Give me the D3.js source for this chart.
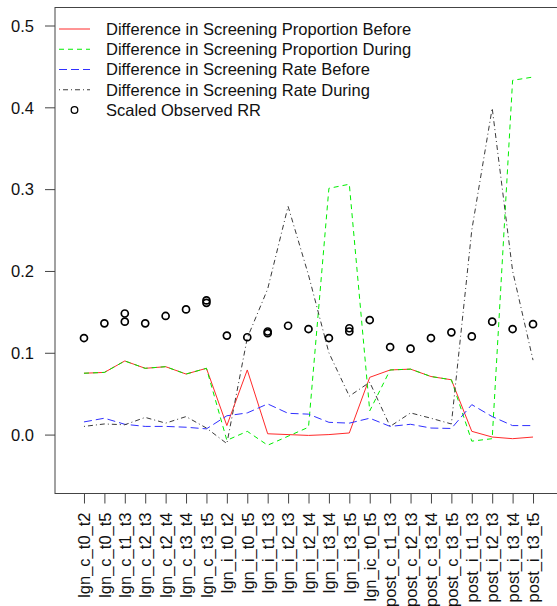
<!DOCTYPE html>
<html>
<head>
<meta charset="utf-8">
<script src="https://cdn.jsdelivr.net/npm/d3@7"></script>
<style>
  html, body { margin: 0; padding: 0; background: #fff; }
  svg { display: block; }
  text { font-family: "Liberation Sans", Arial, sans-serif; }
</style>
</head>
<body>
<svg id="chart" width="557" height="606"></svg>
<script>
const categories = [
  "lgn_c_t0_t2", "lgn_c_t0_t5", "lgn_c_t1_t3", "lgn_c_t2_t3", "lgn_c_t2_t4",
  "lgn_c_t3_t4", "lgn_c_t3_t5", "lgn_i_t0_t2", "lgn_i_t0_t5", "lgn_i_t1_t3",
  "lgn_i_t2_t3", "lgn_i_t2_t4", "lgn_i_t3_t4", "lgn_i_t3_t5", "lgn_ic_t0_t5",
  "post_c_t1_t3", "post_c_t2_t3", "post_c_t3_t4", "post_c_t3_t5", "post_i_t1_t3",
  "post_i_t2_t3", "post_i_t3_t4", "post_i_t3_t5"
];
const propBefore = [0.075, 0.076, 0.090, 0.081, 0.083, 0.074, 0.081, 0.011, 0.079, 0.001,
  0.000, -0.001, 0.000, 0.002, 0.070, 0.079, 0.080, 0.071, 0.067, 0.004, -0.003, -0.005, -0.003];
const propDuring = [0.075, 0.076, 0.090, 0.081, 0.083, 0.074, 0.081, -0.007, 0.004, -0.013,
  -0.002, 0.009, 0.301, 0.306, 0.029, 0.079, 0.080, 0.071, 0.067, -0.008, -0.005, 0.433, 0.437];
const rateBefore = [0.0155, 0.020, 0.0126, 0.010, 0.010, 0.009, 0.007, 0.023, 0.0265, 0.0375,
  0.026, 0.025, 0.015, 0.014, 0.020, 0.010, 0.0126, 0.008, 0.0075, 0.0366, 0.022, 0.011, 0.011];
const rateDuring = [0.010, 0.013, 0.012, 0.021, 0.014, 0.022, 0.008, -0.011, 0.118, 0.178,
  0.279, 0.195, 0.100, 0.047, 0.064, 0.010, 0.0265, 0.020, 0.013, 0.250, 0.399, 0.200, 0.091];
const rrObserved = [0.118, 0.136, 0.138, 0.136, 0.145, 0.153, 0.161, 0.121, 0.119, 0.124,
  0.133, 0.129, 0.118, 0.126, 0.140, 0.107, 0.105, 0.118, 0.125, 0.120, 0.138, 0.129, 0.135];
const rrObservedSecond = [null, null, 0.148, null, null, null, 0.164, null, null, 0.126,
  null, null, null, 0.130, null, null, null, null, null, null, null, null, null];
const yTicks = [0.0, 0.1, 0.2, 0.3, 0.4, 0.5];
const legendLabels = [
  "Difference in Screening Proportion Before",
  "Difference in Screening Proportion During",
  "Difference in Screening Rate Before",
  "Difference in Screening Rate During",
  "Scaled Observed RR"
];

const seriesStyles = [
  { data: propBefore, color: "#ff2a2a", dash: null },
  { data: propDuring, color: "#00ee00", dash: "5,4" },
  { data: rateBefore, color: "#3030ff", dash: "8,4" },
  { data: rateDuring, color: "#3a3a3a", dash: "1,3,5,3" }
];

const svg = d3.select("#chart");
svg.append("rect").attr("width", 557).attr("height", 606).attr("fill", "#fff");

const pLeft = 55, pTop = 7.5, pBottom = 493.5, pRight = 562;
const x = d3.scaleLinear().domain([-0.42, 24.42]).range([pLeft, pRight]);
const y = d3.scaleLinear().domain([-0.072, 0.522]).range([pBottom, pTop]);
const fs = "16.5px";

// Box
svg.append("rect")
  .attr("x", pLeft).attr("y", pTop)
  .attr("width", pRight - pLeft).attr("height", pBottom - pTop)
  .attr("fill", "none").attr("stroke", "#444").attr("stroke-width", 1);

// Y axis
const yAxis = svg.append("g").attr("transform", `translate(${pLeft},0)`)
  .call(d3.axisLeft(y).tickValues(yTicks).tickFormat(d3.format(".1f"))
    .tickSize(10).tickSizeOuter(0).tickPadding(11));
yAxis.select(".domain").remove();
yAxis.selectAll("line").attr("stroke", "#444");
yAxis.selectAll("text").style("font-size", fs).attr("fill", "#111")
  .attr("dy", "0.35em");

// X axis
const xAxis = svg.append("g").attr("transform", `translate(0,${pBottom})`)
  .call(d3.axisBottom(x).tickValues(d3.range(1, categories.length + 1))
    .tickFormat(i => categories[i - 1]).tickSize(10).tickSizeOuter(0));
xAxis.select(".domain").remove();
xAxis.selectAll("line").attr("stroke", "#444");
xAxis.selectAll("text")
  .attr("transform", "rotate(-90)")
  .attr("x", -19).attr("y", 0).attr("dy", "0.35em")
  .style("text-anchor", "end").style("font-size", fs).attr("fill", "#111");

// Lines
const line = d3.line().x((d, i) => x(i + 1)).y(d => y(d));
seriesStyles.forEach(s => {
  svg.append("path").datum(s.data)
    .attr("d", line)
    .attr("fill", "none")
    .attr("stroke", s.color)
    .attr("stroke-width", 1)
    .attr("stroke-dasharray", s.dash);
});

// Points
const pts = [];
rrObserved.forEach((v, i) => pts.push([i + 1, v]));
rrObservedSecond.forEach((v, i) => { if (v !== null) pts.push([i + 1, v]); });
svg.append("g").selectAll("circle").data(pts).join("circle")
  .attr("cx", d => x(d[0])).attr("cy", d => y(d[1]))
  .attr("r", 3.5).attr("fill", "none").attr("stroke", "#000").attr("stroke-width", 1.7);

// Legend
const lg = svg.append("g");
const rowY = i => 29 + i * 20.25;
seriesStyles.forEach((s, i) => {
  lg.append("line").attr("x1", 59).attr("x2", 90).attr("y1", rowY(i)).attr("y2", rowY(i))
    .attr("stroke", s.color).attr("stroke-width", 1).attr("stroke-dasharray", s.dash);
});
lg.append("circle").attr("cx", 74.5).attr("cy", rowY(4)).attr("r", 3.3)
  .attr("fill", "none").attr("stroke", "#000").attr("stroke-width", 1.3);
legendLabels.forEach((t, i) => {
  lg.append("text").attr("x", 106).attr("y", rowY(i)).attr("dy", "0.35em")
    .style("font-size", fs).attr("fill", "#111").text(t);
});
</script>
</body>
</html>
